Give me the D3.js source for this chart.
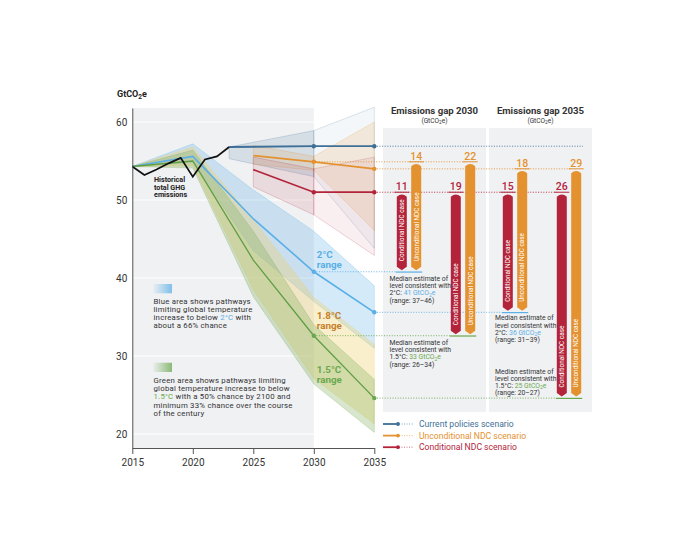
<!DOCTYPE html>
<html><head><meta charset="utf-8">
<script src="https://cdn.jsdelivr.net/npm/d3@7"></script>
<style>body{margin:0;background:#fff;} text{font-family:Roboto,"Open Sans",sans-serif;}</style>
</head><body><svg id="c" width="700" height="550"></svg>
<script>
// ---------- DATA ----------
const histYears = [2015,2016,2017,2018,2019,2020,2021,2022,2023];
const histValues = [54.3,53.2,53.9,54.7,55.4,53.0,55.2,55.6,56.8];

const pathYears = [2015,2020,2025,2030,2035];
const med2C  = [54.3,55.6,47.6,40.8,35.6];
const lo2C   = [54.3,54.8,43.5,37.0,31.0];
const hi2C   = [54.3,57.2,51.3,46.0,39.0];
const lo18   = [54.3,54.4,38.5,27.1,21.3];
const hi18   = [54.3,56.8,47.5,37.5,31.5];
const med15  = [54.3,55.0,42.3,32.6,24.6];
const lo15   = [54.3,54.1,37.6,26.4,20.2];
const hi15   = [54.3,56.4,46.0,34.0,27.0];

const cpYears = [2023,2030,2035];
const cpMed = [56.8,56.9,56.9];
const cpLo  = [55.3,53.0,43.8];
const cpHi  = [56.8,58.9,61.9];
const ndcYears = [2025,2030,2035];
const uncMed = [55.7,54.9,54.0];
const uncLo  = [54.6,53.8,46.1];
const uncHi  = [57.0,55.6,60.0];
const condMed = [53.9,51.0,51.0];
const condLo  = [51.7,48.1,42.9];
const condHi  = [55.5,54.0,55.5];

const xTicks = [2015,2020,2025,2030,2035];
const yTicks = [20,30,40,50,60];

const gapYears = [2030,2035];
const gapTargets = ["2°C","1.5°C"];
const gaps2030 = [11,14,19,22]; // cond 2C, unc 2C, cond 1.5, unc 1.5
const gaps2035 = [15,18,26,29];
const targetMedian = {"2030":{"2°C":41,"1.5°C":33},"2035":{"2°C":36,"1.5°C":25}};
const targetRange  = {"2030":{"2°C":"37–46","1.5°C":"26–34"},"2035":{"2°C":"31–39","1.5°C":"20–27"}};

const legendLabels = ["Current policies scenario","Unconditional NDC scenario","Conditional NDC scenario"];

// ---------- STYLE ----------
const C = {cp:"#3f6f97", unc:"#e4912f", cond:"#b3243b", c2:"#5aafe6", c18:"#f0cf63", c18t:"#c47f2c", c15:"#7aab58", c15t:"#6aa84f", grey:"#f0f1f3", text:"#333"};

const svg = d3.select("#c");
const x = d3.scaleLinear().domain([2015,2035]).range([132.3,374.3]);
const y = d3.scaleLinear().domain([18.2,61.8]).range([448,108]);

const zip = (yrs, lo, hi, med) => yrs.map((yr,i)=>({year:yr, lo:lo?lo[i]:null, hi:hi?hi[i]:null, v:med?med[i]:null}));
const area = d3.area().x(d=>x(d.year)).y0(d=>y(d.lo)).y1(d=>y(d.hi));
const line = d3.line().x(d=>x(d.year)).y(d=>y(d.v));

// grey background
svg.append("rect").attr("x",x(2015)).attr("y",y.range()[1]).attr("width",x(2030)-x(2015)).attr("height",y.range()[0]-y.range()[1]).attr("fill",C.grey);
// gridlines
svg.append("g").selectAll("line").data(yTicks).join("line")
  .attr("x1",x(2015)).attr("x2",x(2030)).attr("y1",d=>y(d)).attr("y2",d=>y(d))
  .attr("stroke","#fff").attr("stroke-width",1);

// gap panels
const panel = d3.scaleBand().domain(gapYears).range([383,592]).paddingInner(0.0283);
svg.append("g").selectAll("rect").data(gapYears).join("rect")
  .attr("x",d=>panel(d)).attr("y",128).attr("width",panel.bandwidth()).attr("height",412-128).attr("fill",C.grey);

// pathway bands
function band(lo,hi,col,op){
  const d = zip(pathYears,lo,hi);
  svg.append("path").attr("d",area(d)).attr("fill",col).attr("fill-opacity",op)
    .attr("stroke",col).attr("stroke-opacity",0.45).attr("stroke-width",0.6);
}
band(lo2C,hi2C,C.c2,0.26);
band(lo18,hi18,C.c18,0.33);
band(lo15,hi15,C.c15,0.3);

// scenario bands (two segments, lighter after 2030)
function sband(yrs,lo,hi,col,op1,op2){
  const d = zip(yrs,lo,hi);
  svg.append("path").attr("d",area(d.slice(0,2))).attr("fill",col).attr("fill-opacity",op1)
    .attr("stroke",col).attr("stroke-opacity",0.35).attr("stroke-width",0.6);
  svg.append("path").attr("d",area(d.slice(1))).attr("fill",col).attr("fill-opacity",op2)
    .attr("stroke",col).attr("stroke-opacity",0.3).attr("stroke-width",0.6);
}
sband(cpYears,cpLo,cpHi,C.cp,0.15,0.06);
sband(ndcYears,uncLo,uncHi,C.unc,0.15,0.15);
sband(ndcYears,condLo,condHi,C.cond,0.11,0.08);

// pathway medians
svg.append("path").attr("d",line(zip(pathYears,null,null,med2C))).attr("fill","none").attr("stroke",C.c2).attr("stroke-width",1.6);
svg.append("path").attr("d",line(zip(pathYears,null,null,med15))).attr("fill","none").attr("stroke","#5f9e45").attr("stroke-width",1.3);

// scenario medians
[[cpMed,cpYears,C.cp],[uncMed,ndcYears,C.unc],[condMed,ndcYears,C.cond]].forEach(([m,yrs,col])=>{
  svg.append("path").attr("d",line(zip(yrs,null,null,m))).attr("fill","none").attr("stroke",col).attr("stroke-width",1.8);
});

// historical
svg.append("path").attr("d",line(zip(histYears,null,null,histValues))).attr("fill","none").attr("stroke","#111").attr("stroke-width",1.7).attr("stroke-linejoin","miter");

// ---- bars layout ----
const pair = d3.scalePoint().domain(gapTargets).range([26,80]);
const barW = 10, barOff = 7.2;
const bars = [];
gapYears.forEach((yr,pi)=>{
  const gl = yr===2030?gaps2030:gaps2035;
  const iy = ndcYears.indexOf(yr);
  gapTargets.forEach((t,ti)=>{
    const cx = panel(yr)+pair(t);
    bars.push({yr,t,kind:"cond",cx:cx-barOff,top:condMed[iy],label:gl[ti*2],col:C.cond,txt:"Conditional NDC case"});
    bars.push({yr,t,kind:"unc",cx:cx+barOff,top:uncMed[iy],label:gl[ti*2+1],col:C.unc,txt:"Unconditional NDC case"});
  });
});
const tgtPlot = {"2°C":med2C,"1.5°C":med15};
bars.forEach(b=>{ b.bot = tgtPlot[b.t][pathYears.indexOf(b.yr)]; });

// dotted lines
function dotted(x1,x2,v,col){
  svg.append("line").attr("x1",x1).attr("x2",x2).attr("y1",y(v)).attr("y2",y(v))
    .attr("stroke",col).attr("stroke-width",0.9).attr("stroke-dasharray","1,1.6");
}
const barOf = (yr,t,k)=>bars.find(b=>b.yr===yr&&b.t===t&&b.kind===k);
dotted(x(2035), panel(2035)+panel.bandwidth()-9, cpMed[2], C.cp);
dotted(x(2030), barOf(2030,"1.5°C","unc").cx-barW/2, uncMed[1], C.unc);
dotted(x(2035), barOf(2035,"1.5°C","unc").cx-barW/2, uncMed[2], C.unc);
dotted(x(2035), barOf(2035,"1.5°C","cond").cx-barW/2, condMed[2], C.cond);
dotted(x(2030), barOf(2030,"2°C","cond").cx-barW/2-1, med2C[3], C.c2);
dotted(x(2035), barOf(2035,"2°C","cond").cx-barW/2-1, med2C[4], C.c2);
dotted(x(2030), barOf(2030,"1.5°C","cond").cx-barW/2-1, med15[3], "#6aa84f");
dotted(x(2035), barOf(2035,"1.5°C","cond").cx-barW/2-1, med15[4], "#6aa84f");

// target underlines
gapYears.forEach(yr=>gapTargets.forEach(t=>{
  const c = barOf(yr,t,"cond"), u = barOf(yr,t,"unc");
  svg.append("line").attr("x1",c.cx-barW/2-1).attr("x2",u.cx+barW/2+1)
    .attr("y1",y(c.bot)+0.3).attr("y2",y(c.bot)+0.3)
    .attr("stroke",t==="2°C"?C.c2:"#6aa84f").attr("stroke-width",1.2);
}));

// bars
const bg = svg.append("g");
bars.forEach(b=>{
  const x0=b.cx-barW/2, x1=b.cx+barW/2, yt=y(b.top)+1.5, yb=y(b.bot)-1.5;
  bg.append("path").attr("d",`M${x0},${yt+3}Q${b.cx},${yt-1.5} ${x1},${yt+3}L${x1},${yb-3.5}L${b.cx},${yb}L${x0},${yb-3.5}Z`).attr("fill",b.col);
  bg.append("line").attr("x1",x0-2.5).attr("x2",x1+2.5).attr("y1",y(b.top)).attr("y2",y(b.top)).attr("stroke",b.col).attr("stroke-width",1);
  bg.append("text").attr("x",b.cx).attr("y",y(b.top)-1.8).attr("text-anchor","middle")
    .attr("font-size",10.5).attr("font-weight",500).attr("fill",b.col).text(b.label);
  bg.append("text").attr("transform",`translate(${b.cx+2.3},${yb-9}) rotate(-90)`)
    .attr("font-size",6.4).attr("fill","#fff").text(b.txt);
});

// dots
[[2030,cpMed[1],C.cp],[2035,cpMed[2],C.cp],[2030,uncMed[1],C.unc],[2035,uncMed[2],C.unc],
 [2030,condMed[1],C.cond],[2035,condMed[2],C.cond],[2030,med2C[3],C.c2],[2035,med2C[4],C.c2],
 [2030,med15[3],"#6aa84f"],[2035,med15[4],"#6aa84f"]].forEach(([yr,v,col])=>{
  svg.append("circle").attr("cx",x(yr)).attr("cy",y(v)).attr("r",2.2).attr("fill",col);
});

// panel titles
gapYears.forEach(yr=>{
  const cx = panel(yr)+panel.bandwidth()/2;
  svg.append("text").attr("x",cx).attr("y",113.5).attr("text-anchor","middle").attr("font-size",9.6).attr("font-weight",700).attr("fill",C.text).text("Emissions gap "+yr);
  const t = svg.append("text").attr("x",cx).attr("y",122.5).attr("text-anchor","middle").attr("font-size",6.6).attr("fill",C.text);
  t.append("tspan").text("(GtCO");
  t.append("tspan").attr("font-size",4.8).attr("dy",1.5).text("2");
  t.append("tspan").attr("dy",-1.5).text("e)");
});

// median estimate texts (one text per line)
function medText(yr,t,x0,yFirst){
  const col = t==="2°C"?C.c2:"#6aa84f";
  const lh = 7.3;
  const g = svg.append("g").attr("font-size",6.8).attr("fill",C.text);
  g.append("text").attr("x",x0).attr("y",yFirst).text("Median estimate of");
  g.append("text").attr("x",x0).attr("y",yFirst+lh).text("level consistent with");
  const t3 = g.append("text").attr("x",x0).attr("y",yFirst+2*lh);
  t3.append("tspan").text(t+": ");
  t3.append("tspan").attr("fill",col).text(targetMedian[yr][t]+" GtCO");
  t3.append("tspan").attr("fill",col).attr("font-size",5).attr("dy",1.2).text("2");
  t3.append("tspan").attr("fill",col).attr("dy",-1.2).text("e");
  g.append("text").attr("x",x0).attr("y",yFirst+3*lh).text("(range: "+targetRange[yr][t]+")");
}
medText(2030,"2°C",panel(2030)+6.5,y(med2C[3])+9);
medText(2030,"1.5°C",panel(2030)+6.5,y(med15[3])+9);
medText(2035,"2°C",panel(2035)+6,y(med2C[4])+8);
medText(2035,"1.5°C",panel(2035)+6,y(med15[4])-24.5);

// range labels
function rangeLabel(lbl,col,yb){
  const g = svg.append("g").attr("font-size",9.8).attr("font-weight",700).attr("fill",col);
  g.append("text").attr("x",x(2030)+3).attr("y",yb).text(lbl);
  g.append("text").attr("x",x(2030)+3).attr("y",yb+10.5).text("range");
}
rangeLabel("2°C",C.c2,257.5);
rangeLabel("1.8°C",C.c18t,318.5);
rangeLabel("1.5°C",C.c15t,372.5);

// historical label
const hg = svg.append("g").attr("font-size",7.2).attr("font-weight",700).attr("fill","#222");
["Historical","total GHG","emissions"].forEach((s,i)=>hg.append("text").attr("x",154).attr("y",182+i*7.7).text(s));

// legend swatches
const defs = svg.append("defs");
[["gB",C.c2],["gG","#6aa84f"]].forEach(([id,col])=>{
  const lg = defs.append("linearGradient").attr("id",id);
  lg.append("stop").attr("offset","0%").attr("stop-color",col).attr("stop-opacity",0.05);
  lg.append("stop").attr("offset","100%").attr("stop-color",col).attr("stop-opacity",0.75);
});
svg.append("rect").attr("x",153.3).attr("y",284).attr("width",18.7).attr("height",9.3).attr("fill","url(#gB)");
svg.append("rect").attr("x",153.3).attr("y",362.7).attr("width",18.7).attr("height",9.3).attr("fill","url(#gG)");

function para(lines,x0,y0,lh){
  const g = svg.append("g").attr("font-size",7.8).attr("letter-spacing",0.22).attr("fill",C.text);
  lines.forEach((parts,i)=>{
    const t = g.append("text").attr("x",x0).attr("y",y0+i*lh);
    parts.forEach(p=>{ const s=t.append("tspan").text(p[0]); if(p[1]) s.attr("fill",p[1]); });
  });
}
para([[["Blue area shows pathways"]],[["limiting global temperature"]],[["increase to below "],["2°C",C.c2],[" with"]],[["about a 66% chance"]]],153.5,303.5,8.3);
para([[["Green area shows pathways limiting"]],[["global temperature increase to below"]],[["1.5°C",C.c15t],[" with a 50% chance by 2100 and"]],[["minimum 33% chance over the course"]],[["of the century"]]],153.5,382.8,8.3);

// bottom legend
[C.cp,C.unc,C.cond].forEach((col,i)=>{
  const yy = 424+i*11.6;
  svg.append("line").attr("x1",383).attr("x2",398).attr("y1",yy).attr("y2",yy).attr("stroke",col).attr("stroke-width",1.8);
  svg.append("circle").attr("cx",398).attr("cy",yy).attr("r",1.9).attr("fill",col);
  svg.append("line").attr("x1",399).attr("x2",413).attr("y1",yy).attr("y2",yy).attr("stroke",col).attr("stroke-width",0.8).attr("stroke-dasharray","1,1.5").attr("stroke-opacity",0.8);
  svg.append("text").attr("x",419).attr("y",yy+3).attr("font-size",8.6).attr("fill",col).text(legendLabels[i]);
});

// axes
const xa = svg.append("g").attr("transform",`translate(0,${y.range()[0]})`)
  .call(d3.axisBottom(x).tickValues(xTicks).tickFormat(d3.format("d")).tickSize(6).tickSizeOuter(0));
xa.select(".domain").attr("stroke","#555");
xa.selectAll(".tick line").attr("stroke","#555");
xa.selectAll("text").attr("font-size",10).attr("fill",C.text).attr("dy","0.9em").style("font-family","Roboto");

const ya = svg.append("g").attr("transform",`translate(${x(2015)},0)`)
  .call(d3.axisLeft(y).tickValues(yTicks).tickSize(0).tickPadding(5));
ya.select(".domain").attr("stroke","#555");
ya.selectAll("text").attr("font-size",10).attr("fill",C.text).style("font-family","Roboto");

const yt = svg.append("text").attr("x",117).attr("y",97).attr("font-size",9).attr("font-weight",700).attr("fill","#222");
yt.append("tspan").text("GtCO");
yt.append("tspan").attr("font-size",6.5).attr("dy",2).text("2");
yt.append("tspan").attr("dy",-2).text("e");
</script></body></html>
